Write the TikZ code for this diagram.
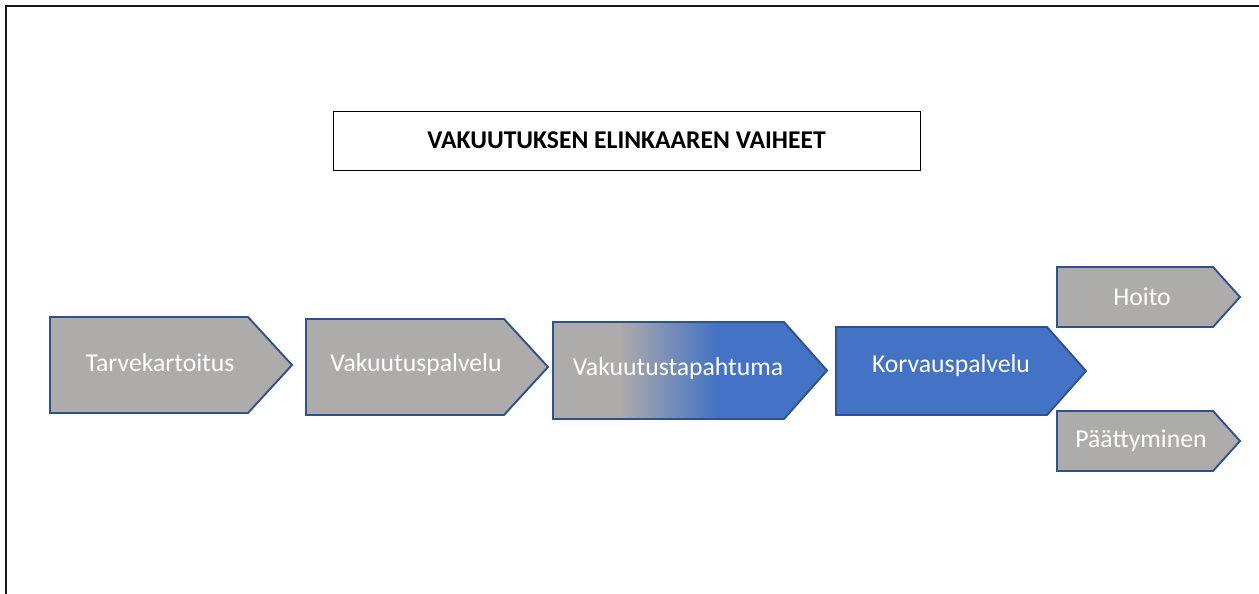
\documentclass[tikz,border=0pt]{standalone}
\usepackage{fontspec}
\setmainfont{Carlito}
\definecolor{stepgray}{HTML}{AEABAB}
\definecolor{stepblue}{HTML}{4472C4}
\definecolor{edgeblue}{HTML}{2F528F}
% gray on the left, blending into blue towards the tip
\pgfdeclarehorizontalshading{grayblue}{100bp}{color(0bp)=(stepgray); color(37bp)=(stepgray); color(55bp)=(stepblue); color(100bp)=(stepblue)}
\tikzset{
  stepshape/.style={draw=edgeblue, line width=1.9pt, line join=miter},
  graystep/.style={stepshape, fill=stepgray},
  bluestep/.style={stepshape, fill=stepblue},
  mixstep/.style={stepshape, shading=grayblue},
  steplabel/.style={text=white, font=\fontsize{25.7}{30}\selectfont, inner sep=0pt, anchor=center},
  titlebox/.style={draw=black, line width=0.9pt, minimum width=587pt, minimum height=59pt, inner sep=0pt, font=\bfseries\fontsize{25.6}{30}\selectfont}
}
% pentagon step: left, top, right shoulder, tip x, bottom
\newcommand\stepbody[6]{%
  \path[#1] (#2,#3) -- (#4,#3) -- (#5,{(#3+#6)/2}) -- (#4,#6) -- (#2,#6) -- cycle;}
\begin{document}
\begin{tikzpicture}[x=1pt, y=-1pt]
  \useasboundingbox (0,0) rectangle (1259,594);
  \fill[white] (0,0) rectangle (1259,594);
  % page frame (left and top edges)
  \draw[line width=2.8pt, black!90] (6,594) -- (6,6) -- (1259,6);

  \node[titlebox] (title) at (626.5,140.5) {VAKUUTUKSEN ELINKAAREN VAIHEET};

  \stepbody{graystep}{50}{317}{248}{292}{413}
  \node[steplabel] (s1) at (160,363) {Tarvekartoitus};

  \stepbody{graystep}{306}{319}{504}{548}{415}
  \node[steplabel] (s2) at (416,365) {Vakuutuspalvelu};

  \stepbody{mixstep}{553}{322}{784}{827}{419}
  \node[steplabel] (s3) at (678,369) {Vakuutustapahtuma};

  \stepbody{bluestep}{836}{327}{1047}{1086}{415}
  \node[steplabel] (s4) at (951,366) {Korvauspalvelu};

  \stepbody{graystep}{1057}{267}{1213}{1240}{327}
  \node[steplabel] (s5) at (1142,297) {Hoito};

  \stepbody{graystep}{1057}{411}{1213}{1240}{471}
  \node[steplabel] (s6) at (1141,441) {Päättyminen};
\end{tikzpicture}
\end{document}
